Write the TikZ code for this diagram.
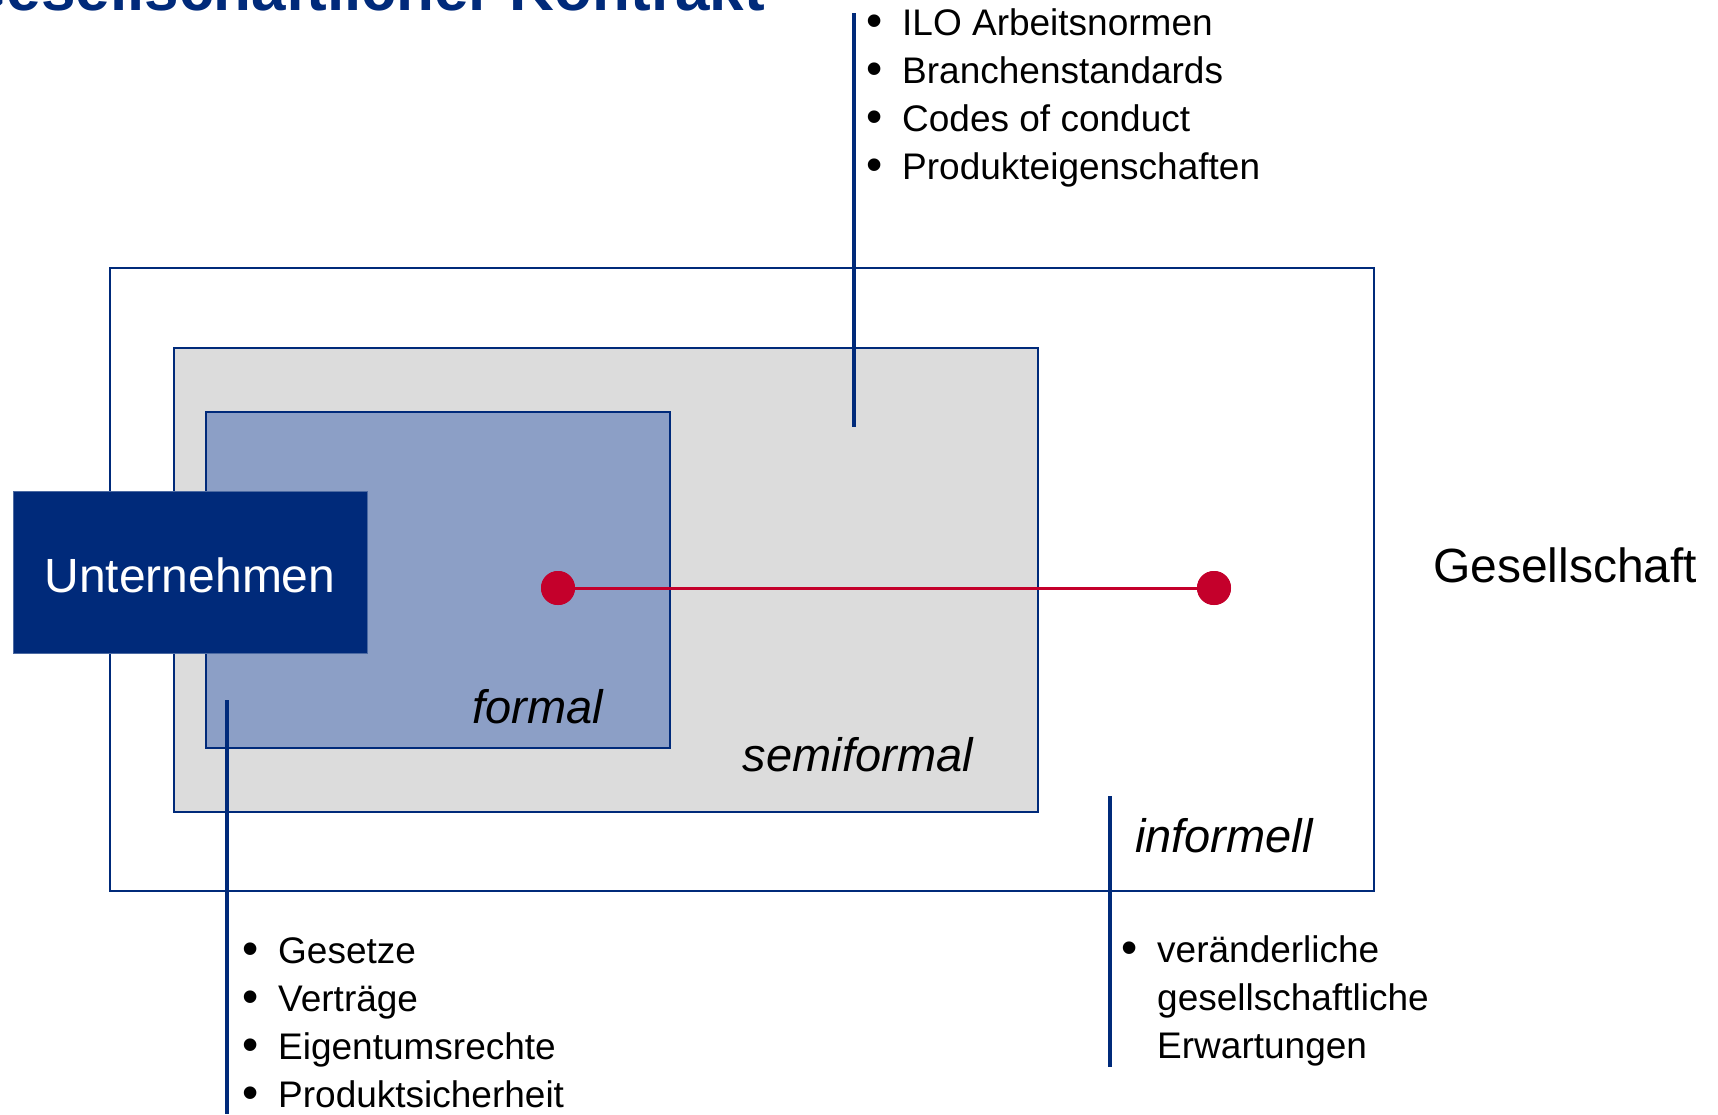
\documentclass[tikz,border=0pt]{standalone}
\usepackage{fontspec}
\setmainfont{Liberation Sans}
\usepackage{array}
\usepackage{graphicx}
\definecolor{dblue}{HTML}{002A7A}
\definecolor{fblue}{HTML}{8C9FC6}
\definecolor{lgray}{HTML}{DCDCDC}
\definecolor{cred}{HTML}{C4002B}
\tikzset{
  frame/.style={draw=dblue, line width=2.2pt},
  marker/.style={draw=dblue, line width=4.6pt},
  label/.style={inner sep=0pt, font=\fontsize{47}{56}\selectfont\itshape},
  bulletlist/.style={inner sep=0pt, anchor=base west, align=left, font=\fontsize{37}{48}\selectfont},
  dot/.style={circle, fill=cred, inner sep=0pt, minimum size=34pt},
}
\newcommand{\bl}{\raisebox{-1.5pt}{\scalebox{1.25}{\textbullet}}}
\begin{document}
\begin{tikzpicture}[x=1pt, y=-1pt]
\useasboundingbox (0,0) rectangle (1718,1114);
\clip (0,0) rectangle (1718,1114);
\fill[white] (0,0) rectangle (1718,1114);

% title (cut at the top)
\node[inner sep=0pt, anchor=base east, text=dblue, font=\fontsize{62}{70}\selectfont\bfseries] (title) at (765,10) {Gesellschaftlicher Kontrakt};

% nested frames
\draw[frame, fill=white] (110,268) rectangle (1374,891);
\draw[frame, fill=lgray] (174,348) rectangle (1038,812);
\draw[frame, fill=fblue] (206,412) rectangle (670,748);

% marker lines
\coordinate (t1) at (854,13);
\coordinate (t2) at (854,427);
\coordinate (b1) at (227,700);
\coordinate (b2) at (227,1114);
\coordinate (r1) at (1110,796);
\coordinate (r2) at (1110,1067);
\draw[marker] (t1) -- (t2);
\draw[marker] (b1) -- (b2);
\draw[marker] (r1) -- (r2);

% company box
\node[fill=dblue, draw=dblue!70!white, line width=0.8pt, minimum width=354pt, minimum height=162pt, inner sep=0pt,
      text height=40pt, text depth=0pt,
      text=white, font=\fontsize{48}{56}\selectfont] (unt) at (190,572) {Unternehmen};

% red connector
\node[dot] (d1) at (558,588) {};
\node[dot] (d2) at (1214,588) {};
\draw[cred, line width=3pt] (d1.center) -- (d2.center);
\node[dot] at (d1.center) {};
\node[dot] at (d2.center) {};

% labels
\node[label, anchor=base east] (formal) at (603,723) {formal};
\node[label, anchor=base east] (semi) at (973,771) {semiformal};
\node[label, anchor=base west] (inform) at (1135,852) {informell};
\node[inner sep=0pt, anchor=base west, font=\fontsize{48}{56}\selectfont] (ges) at (1433,582) {Gesellschaft};

% bullet lists
\node[bulletlist] (top) at (866,35) {\begin{tabular}[t]{@{}p{36pt}@{}l@{}}
\bl & ILO Arbeitsnormen\\
\bl & Branchenstandards\\
\bl & Codes of conduct\\
\bl & Produkteigenschaften
\end{tabular}};
\node[bulletlist] (bot) at (242,963) {\begin{tabular}[t]{@{}p{36pt}@{}l@{}}
\bl & Gesetze\\
\bl & Verträge\\
\bl & Eigentumsrechte\\
\bl & Produktsicherheit
\end{tabular}};
\node[bulletlist] (right) at (1121,962) {\begin{tabular}[t]{@{}p{36pt}@{}l@{}}
\bl & veränderliche\\
 & gesellschaftliche\\
 & Erwartungen
\end{tabular}};
\end{tikzpicture}
\end{document}
